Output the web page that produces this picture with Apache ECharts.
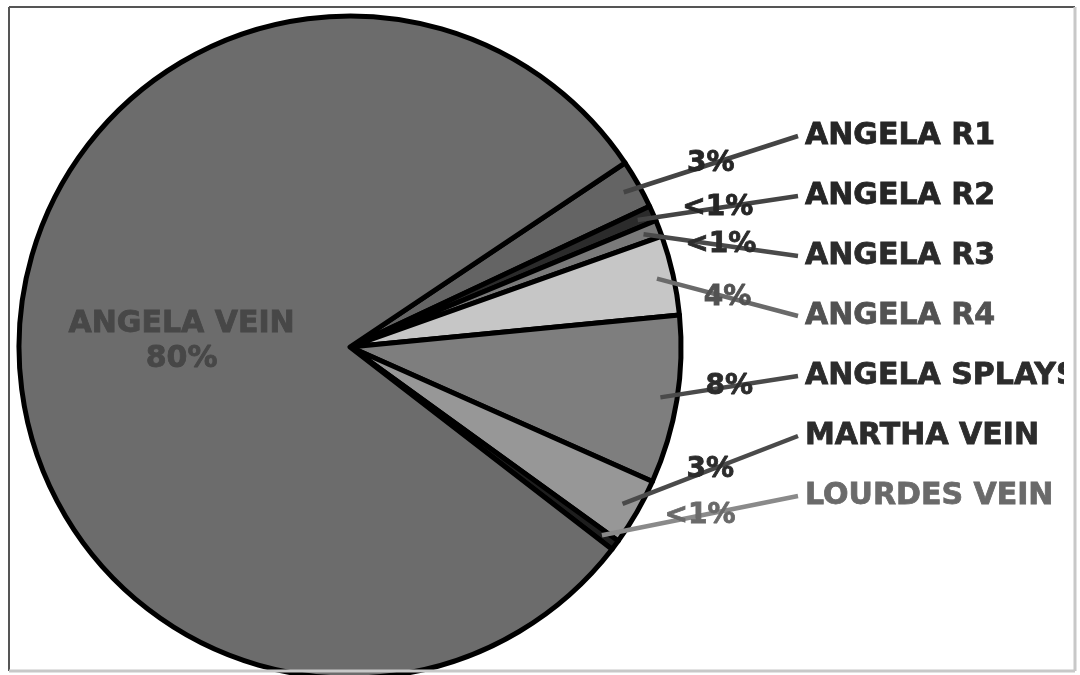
<!DOCTYPE html>
<html>
<head>
<meta charset="utf-8">
<title>Angela vein share</title>
<script src="https://cdn.jsdelivr.net/npm/echarts@6/dist/echarts.min.js"></script>
<style>
html, body { margin: 0; padding: 0; background: #fff; }
#chart { width: 1080px; height: 675px; }
</style>
</head>
<body>
<div id="chart"></div>
<script>
// slices, clockwise starting at the top edge of ANGELA R1
var names = ['ANGELA R1', 'ANGELA R2', 'ANGELA R3', 'ANGELA R4', 'ANGELA SPLAYS', 'MARTHA VEIN', 'LOURDES VEIN', 'ANGELA VEIN'];
var values = [2.4, 0.75, 0.8, 3.9, 8.2, 3.3, 0.5, 80.15];
var pctLabels = ['3%', '<1%', '<1%', '4%', '8%', '3%', '<1%', '80%'];

var fills = ['#646464', '#2b2b2b', '#7a7a7a', '#c6c6c6', '#7e7e7e', '#979797', '#1e1e1e', '#6c6c6c'];
var textColors = ['#262626', '#262626', '#2c2c2c', '#525252', '#2c2c2c', '#2c2c2c', '#6a6a6a', '#474747'];
var lineColors = ['#444', '#444', '#4a4a4a', '#6a6a6a', '#4a4a4a', '#4a4a4a', '#8a8a8a', '#444'];

var cx = 350, cy = 347, r = 331, startAngle = 33.8;
var nameX = 805, nameTop = 136, nameStep = 60;
var inside = names.length - 1;  // big slice keeps its label inside

var total = values.reduce(function (s, v) { return s + v; }, 0);

// point inside the slice where the leader line starts
function anchor(i) {
    var before = 0;
    for (var k = 0; k < i; k++) before += values[k];
    var a = (startAngle - (before + values[i] / 2) / total * 360) * Math.PI / 180;
    return [cx + r * 0.95 * Math.cos(a), cy - r * 0.95 * Math.sin(a)];
}
function lineEnd(i) {
    return [nameX - 7, nameTop + nameStep * i];
}

function textStyle(size, color) {
    return {
        fontFamily: 'DejaVu Sans', fontWeight: 'bold', fontSize: size,
        color: color, textBorderColor: color, textBorderWidth: 0.8, overflow: 'none'
    };
}

var base = {
    type: 'pie',
    center: [cx, cy],
    radius: r,
    startAngle: startAngle,
    clockwise: true,
    silent: true,
    avoidLabelOverlap: false
};

var chart = echarts.init(document.getElementById('chart'));
chart.setOption({
    animation: false,
    backgroundColor: '#fff',
    graphic: [
        // cropped figure frame
        { type: 'rect', z: 100, shape: { x: 1064, y: 0, width: 16, height: 675 }, style: { fill: '#fff' } },
        { type: 'line', z: 101, shape: { x1: 9, y1: 7, x2: 1075, y2: 7 }, style: { stroke: '#555', lineWidth: 2 } },
        { type: 'line', z: 101, shape: { x1: 9, y1: 7, x2: 9, y2: 671 }, style: { stroke: '#555', lineWidth: 2 } },
        { type: 'line', z: 101, shape: { x1: 1075, y1: 7, x2: 1075, y2: 671 }, style: { stroke: '#c8c8c8', lineWidth: 3 } },
        { type: 'line', z: 101, shape: { x1: 9, y1: 671, x2: 1075, y2: 671 }, style: { stroke: '#c8c8c8', lineWidth: 3 } }
    ],
    series: [
        // the slices themselves
        Object.assign({}, base, {
            z: 2,
            itemStyle: { borderColor: '#000', borderWidth: 5 },
            label: { show: false },
            labelLine: { show: false },
            data: names.map(function (n, i) {
                var item = { name: n, value: values[i], itemStyle: { color: fills[i] } };
                if (i === inside) {
                    item.label = Object.assign({ show: true, position: 'inside', lineHeight: 35, formatter: '{b}\n' + pctLabels[i] },
                        textStyle(30, textColors[i]));
                }
                return item;
            })
        }),
        // names with leader lines drawn over the slices
        Object.assign({}, base, {
            z: 3,
            itemStyle: { color: 'rgba(0,0,0,0)', borderWidth: 0 },
            label: Object.assign({ show: true, position: 'outside', formatter: '{b}' }, textStyle(30, '#262626')),
            labelLine: { show: true, length: 10, length2: 10, lineStyle: { width: 4.5 } },
            labelLayout: function (p) {
                var i = p.dataIndex;
                if (i === inside) return {};
                var e = lineEnd(i);
                return { x: nameX, y: e[1], align: 'left', verticalAlign: 'middle', labelLinePoints: [anchor(i), e] };
            },
            data: names.map(function (n, i) {
                return {
                    name: n,
                    value: values[i],
                    label: i === inside ? { show: false } : textStyle(30, textColors[i]),
                    labelLine: i === inside ? { show: false } : { lineStyle: { color: lineColors[i] } }
                };
            })
        }),
        // percent labels sitting on the leader lines
        Object.assign({}, base, {
            z: 4,
            itemStyle: { color: 'rgba(0,0,0,0)', borderWidth: 0 },
            label: Object.assign({ show: true, position: 'outside', formatter: function (p) { return pctLabels[p.dataIndex]; } }, textStyle(28, '#262626')),
            labelLine: { show: false },
            labelLayout: function (p) {
                var i = p.dataIndex;
                if (i === inside) return {};
                var a = anchor(i), e = lineEnd(i);
                return { x: (a[0] + e[0]) / 2, y: (a[1] + e[1]) / 2, align: 'center', verticalAlign: 'middle' };
            },
            data: names.map(function (n, i) {
                return { name: n, value: values[i], label: i === inside ? { show: false } : textStyle(28, textColors[i]) };
            })
        })
    ]
});
</script>
</body>
</html>
